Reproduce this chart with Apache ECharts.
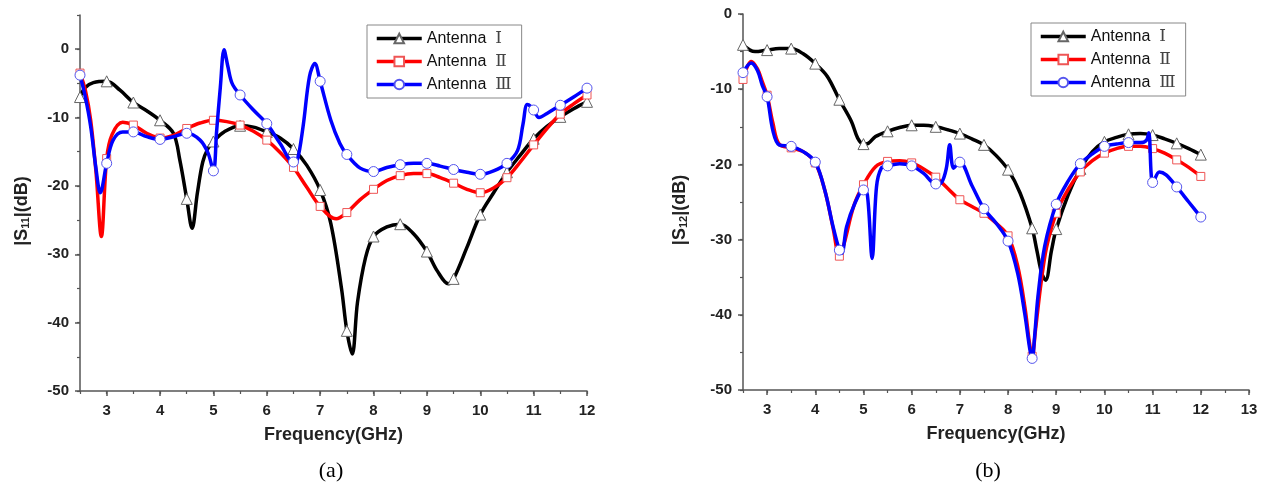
<!DOCTYPE html>
<html>
<head>
<meta charset="utf-8">
<script src="https://cdn.jsdelivr.net/npm/echarts@6/dist/echarts.min.js"></script>
<style>
  html, body { margin: 0; padding: 0; background: #fff; }
  #chart { width: 1276px; height: 485px; }
</style>
</head>
<body>
<div id="chart"></div>
<script>
// Antenna names
const names = ['Antenna Ⅰ', 'Antenna Ⅱ', 'Antenna Ⅲ'];

// Tick labels
const xTicksA = [3, 4, 5, 6, 7, 8, 9, 10, 11, 12];
const xTicksB = [3, 4, 5, 6, 7, 8, 9, 10, 11, 12, 13];
const yTicks = [-50, -40, -30, -20, -10, 0];

// (a) |S11|, markers every 0.5 GHz
const s11Freq1 = [2.5,2.6,2.75,3,3.25,3.5,3.75,4,4.25,4.37,4.5,4.6,4.7,4.8,4.9,5,5.2,5.5,5.75,6,6.25,6.5,6.75,7,7.2,7.4,7.5,7.6,7.7,7.85,8,8.25,8.5,8.75,9,9.2,9.4,9.5,9.75,10,10.25,10.5,10.75,11,11.25,11.5,11.75,12];
const s11Ant1 = [-7,-5.6,-4.9,-4.7,-6.0,-7.8,-9.0,-10.4,-12.3,-16.2,-21.9,-26.2,-21,-16.5,-14.5,-13.5,-12.1,-11.2,-11.4,-12.1,-13.0,-14.6,-17,-20.6,-25.5,-35,-41.2,-44.6,-37,-30.5,-27.4,-26,-25.6,-27,-29.6,-32.5,-34.3,-33.6,-29,-24.2,-21,-18,-15.5,-13.1,-11.3,-9.9,-8.7,-7.7];

const s11Freq2 = [2.5,2.6,2.7,2.8,2.9,3,3.1,3.3,3.5,3.75,4,4.25,4.5,4.75,5,5.25,5.5,5.75,6,6.25,6.5,6.75,7,7.3,7.5,7.75,8,8.25,8.5,8.75,9,9.25,9.5,9.75,10,10.25,10.5,10.75,11,11.25,11.5,11.75,12];
const s11Ant2 = [-3.5,-6,-10.4,-18,-27.4,-16,-12.5,-10.7,-11.1,-12.3,-13.0,-12.6,-11.6,-10.8,-10.4,-10.6,-11.1,-12.0,-13.3,-15.1,-17.3,-20.2,-23.0,-24.8,-23.9,-22.0,-20.5,-19.2,-18.5,-18.2,-18.2,-18.8,-19.6,-20.5,-21.0,-20.3,-18.8,-16.5,-14.0,-11.6,-9.5,-8.0,-6.7];

const s11Freq3 = [2.5,2.6,2.7,2.8,2.88,3,3.12,3.3,3.5,3.75,4,4.25,4.5,4.75,4.9,5,5.06,5.13,5.2,5.27,5.35,5.5,5.75,6,6.25,6.5,6.57,6.68,6.8,6.9,7,7.2,7.37,7.5,7.75,8,8.25,8.5,8.75,9,9.25,9.5,9.75,10,10.25,10.5,10.7,10.8,10.88,10.95,11,11.1,11.25,11.5,11.75,12];
const s11Ant3 = [-3.8,-7,-11.3,-17.5,-21,-16.7,-13.3,-12.1,-12.1,-12.8,-13.2,-12.8,-12.3,-13.3,-15.2,-17.8,-12,-5.5,-0.1,-2.5,-5,-6.7,-8.9,-10.9,-13.8,-16.5,-16.3,-11.3,-4,-2.1,-4.7,-10.4,-13.8,-15.4,-17.4,-17.9,-17.3,-16.9,-16.7,-16.7,-17.1,-17.6,-18.0,-18.3,-17.8,-16.7,-14.8,-11,-8.1,-8.4,-8.9,-10.0,-9.4,-8.2,-7.0,-5.7];

// (b) |S12|
const s12Freq1 = [2.5,2.75,3,3.25,3.5,3.75,4,4.25,4.5,4.75,4.88,5,5.1,5.25,5.5,5.75,6,6.25,6.5,6.75,7,7.25,7.5,7.75,8,8.25,8.5,8.6,8.7,8.78,8.9,9,9.25,9.5,9.75,10,10.25,10.5,10.75,11,11.25,11.5,11.75,12];
const s12Ant1 = [-4.1,-5.0,-4.8,-4.6,-4.6,-5.3,-6.6,-8.3,-11.4,-14.3,-16.5,-17.3,-17.2,-16.3,-15.6,-15.1,-14.8,-14.8,-15.0,-15.4,-15.9,-16.6,-17.4,-18.8,-20.7,-23.8,-28.5,-31.5,-34.5,-35.4,-31.5,-28.6,-24,-20.6,-18.3,-17.0,-16.4,-16.0,-15.9,-16.1,-16.6,-17.2,-17.9,-18.7];

const s12Freq2 = [2.5,2.67,2.8,2.9,3,3.12,3.25,3.5,3.75,4,4.2,4.37,4.5,4.6,4.8,5,5.25,5.5,5.75,6,6.25,6.5,6.75,7,7.25,7.5,7.75,8,8.2,8.35,8.45,8.5,8.57,8.68,8.8,9,9.25,9.5,9.75,10,10.25,10.5,10.75,11,11.25,11.5,11.75,12];
const s12Ant2 = [-8.7,-6.3,-7.3,-9.0,-10.8,-14.5,-17.3,-17.8,-18.3,-19.8,-23.5,-28.5,-32.2,-30.5,-25.5,-22.7,-20.3,-19.6,-19.5,-19.8,-20.6,-21.7,-23.2,-24.7,-25.6,-26.5,-27.8,-29.5,-33.5,-39,-44,-45.5,-42,-36,-31,-26.5,-23.3,-21.0,-19.5,-18.5,-17.9,-17.6,-17.6,-17.9,-18.5,-19.4,-20.4,-21.6];

const s12Freq3 = [2.5,2.67,2.8,2.9,3,3.12,3.25,3.5,3.75,4,4.2,4.37,4.5,4.55,4.65,4.82,5,5.08,5.18,5.27,5.37,5.5,5.75,6,6.25,6.5,6.62,6.72,6.79,6.87,7,7.25,7.5,7.75,8,8.2,8.35,8.45,8.5,8.55,8.62,8.76,9,9.25,9.5,9.75,10,10.25,10.5,10.75,10.87,10.92,10.97,11,11.14,11.28,11.5,11.75,12];
const s12Ant3 = [-7.8,-6.5,-7.5,-9.5,-11.0,-15.5,-17.4,-17.6,-18.3,-19.7,-23.5,-28.3,-31.4,-31.8,-28.3,-25.2,-23.4,-24,-32.5,-23,-20.5,-20.2,-19.9,-20.2,-21.2,-22.6,-22.4,-20.5,-17.4,-20.5,-19.7,-22.8,-25.9,-27.8,-30.2,-34.5,-40,-44.5,-45.8,-43,-37.6,-30.9,-25.3,-22.2,-19.9,-18.6,-17.6,-17.3,-17.1,-17.1,-16.8,-15.8,-21.3,-22.4,-21.0,-21.4,-23.0,-25.0,-27.0];

// Styles
const AXIS_COLOR = '#555';
const FONT = '"Liberation Sans", Arial, sans-serif';
const LINE_COLORS = ['#000000', '#ff0000', '#0000ff'];
const SYMBOLS = ['triangle', 'rect', 'circle'];
const SYMBOL_SIZES = [11, 8, 10];
const BORDER_COLORS = ['#666666', '#ee5555', '#5555ee'];

// marker only on multiples of 0.5 GHz
function toData(freq, vals) {
  return freq.map((f, i) => {
    const d = { value: [f, vals[i]] };
    if (Math.abs(f * 2 - Math.round(f * 2)) > 1e-6) d.symbol = 'none';
    return d;
  });
}

function makeSeries(k, axisIndex, freq, vals) {
  return {
    name: names[k],
    type: 'line',
    xAxisIndex: axisIndex,
    yAxisIndex: axisIndex,
    data: toData(freq, vals),
    smooth: 0.35,
    symbol: SYMBOLS[k],
    symbolSize: SYMBOL_SIZES[k],
    lineStyle: { color: LINE_COLORS[k], width: 3.5, join: 'round' },
    itemStyle: { color: '#ffffff', borderColor: BORDER_COLORS[k], borderWidth: 1 },
    emphasis: { disabled: true },
    z: 2 + k,
  };
}

function mainX(gridIndex, max, ticks) {
  return {
    type: 'value', gridIndex, min: 2.5, max,
    name: 'Frequency(GHz)', nameLocation: 'middle', nameGap: 35,
    nameTextStyle: { fontSize: 18, fontWeight: 'bold', fontFamily: FONT, color: '#222' },
    axisLine: { onZero: false, lineStyle: { color: AXIS_COLOR, width: 1.5 } },
    axisTick: { length: 5, lineStyle: { color: AXIS_COLOR, width: 1.5 }, customValues: ticks },
    axisLabel: { customValues: ticks, fontSize: 15, fontWeight: 'bold', fontFamily: FONT, color: '#222', margin: 12 },
    splitLine: { show: false },
  };
}

function mainY(gridIndex, max, sub, gap) {
  return {
    type: 'value', gridIndex, min: -50, max,
    name: '{m||S}{s|' + sub + '}{m||(dB)}', nameLocation: 'middle', nameGap: gap,
    nameTextStyle: {
      fontSize: 18, fontWeight: 'bold', fontFamily: FONT, color: '#222',
      padding: [0, 16, 0, 0],
      rich: {
        m: { fontSize: 18, fontWeight: 'bold', fontFamily: FONT, color: '#222', lineHeight: 18, verticalAlign: 'middle' },
        s: { fontSize: 11, fontWeight: 'bold', fontFamily: FONT, color: '#222', lineHeight: 12, verticalAlign: 'bottom', padding: [11, 0, 0, 0] },
      },
    },
    axisLine: { onZero: false, lineStyle: { color: AXIS_COLOR, width: 1.5 } },
    axisTick: { length: 5, lineStyle: { color: AXIS_COLOR, width: 1.5 }, customValues: yTicks },
    axisLabel: { customValues: yTicks, fontSize: 15, fontWeight: 'bold', fontFamily: FONT, color: '#222', margin: 11 },
    splitLine: { show: false },
  };
}

// overlay axes that only draw the half-step minor ticks
function minorX(gridIndex, max) {
  return {
    type: 'value', gridIndex, min: 2.5, max, interval: 0.5,
    axisLine: { show: false, onZero: false }, axisLabel: { show: false }, splitLine: { show: false },
    axisTick: { length: 3, lineStyle: { color: AXIS_COLOR, width: 1.2 } },
  };
}
function minorY(gridIndex, max) {
  return {
    type: 'value', gridIndex, min: -50, max, interval: 5,
    axisLine: { show: false, onZero: false }, axisLabel: { show: false }, splitLine: { show: false },
    axisTick: { length: 3, lineStyle: { color: AXIS_COLOR, width: 1.2 } },
  };
}

function makeLegend(left, top) {
  return {
    data: names, orient: 'vertical', left, top,
    padding: [5, 10, 5, 8], itemGap: 6, itemWidth: 45, itemHeight: 12,
    borderColor: '#888', borderWidth: 1, backgroundColor: '#fff',
    selectedMode: false,
    lineStyle: { width: 3.5 },
    formatter: name => {
      const p = name.split(' ');
      return p[0] + '  {r|' + p[1] + '}';
    },
    textStyle: {
      fontSize: 16, fontFamily: FONT, color: '#111',
      rich: { r: { fontSize: 17, fontFamily: '"DejaVu Serif", "Liberation Serif", serif', color: '#444' } },
    },
  };
}

const chart = echarts.init(document.getElementById('chart'), null, { renderer: 'canvas' });

const gridA = { left: 80, top: 15, width: 507, height: 376 };
const gridB = { left: 743, top: 14, width: 506, height: 376 };

const option = {
  backgroundColor: '#fff',
  animation: false,
  grid: [
    Object.assign({ containLabel: false }, gridA),
    Object.assign({ containLabel: false }, gridB),
    Object.assign({ containLabel: false }, gridA),
    Object.assign({ containLabel: false }, gridB),
  ],
  xAxis: [mainX(0, 12, xTicksA), mainX(1, 13, xTicksB), minorX(2, 12), minorX(3, 13)],
  yAxis: [mainY(0, 5, '11', 49), mainY(1, 0, '12', 54), minorY(2, 5), minorY(3, 0)],
  legend: [makeLegend(367, 25), makeLegend(1031, 23)],
  graphic: [
    { type: 'text', x: 331, y: 471, style: { text: '(a)', font: '22px "Liberation Serif", serif', fill: '#000', align: 'center', verticalAlign: 'middle', textAlign: 'center', textVerticalAlign: 'middle' } },
    { type: 'text', x: 988, y: 471, style: { text: '(b)', font: '22px "Liberation Serif", serif', fill: '#000', align: 'center', verticalAlign: 'middle', textAlign: 'center', textVerticalAlign: 'middle' } },
  ],
  series: [
    makeSeries(0, 0, s11Freq1, s11Ant1),
    makeSeries(1, 0, s11Freq2, s11Ant2),
    makeSeries(2, 0, s11Freq3, s11Ant3),
    makeSeries(0, 1, s12Freq1, s12Ant1),
    makeSeries(1, 1, s12Freq2, s12Ant2),
    makeSeries(2, 1, s12Freq3, s12Ant3),
  ],
};

chart.setOption(option);
</script>
</body>
</html>
